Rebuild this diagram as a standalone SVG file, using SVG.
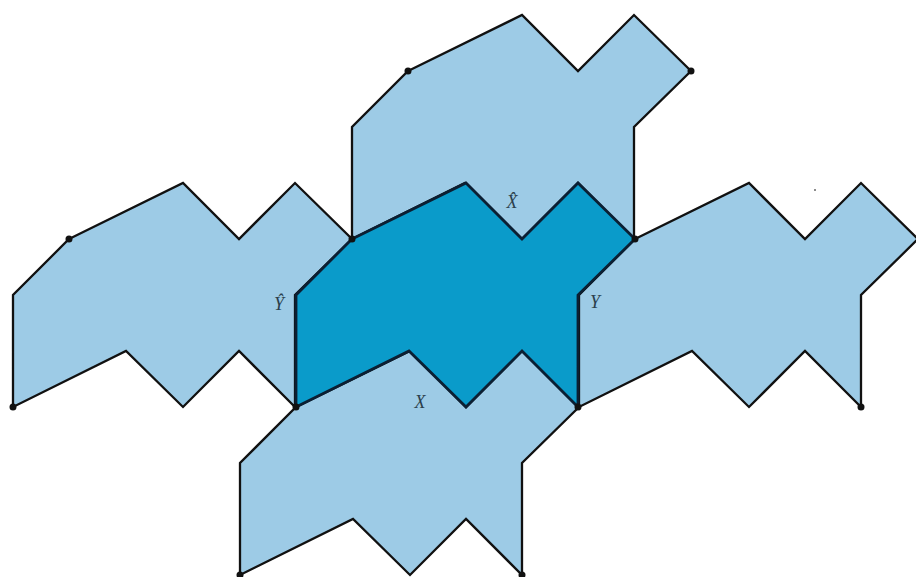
<svg xmlns="http://www.w3.org/2000/svg" width="916" height="577" viewBox="0 0 916 577">
<defs>
<style>
.tile{fill:#9dcbe6;stroke:#111;stroke-width:2.3;stroke-linejoin:miter}
.center{fill:#0a9bca;stroke:#0b1f33;stroke-width:2.8;stroke-linejoin:miter}
.dot{fill:#111}
.lbl{font-family:"Liberation Serif",serif;font-style:italic;font-size:18px;fill:#2b3f4c}
</style>
<polygon id="shape" points="352,239 466,183 522,239 578,183 635,239 578,295 578,407 522,351 466,407 409,351 296,407 296,295"/>
</defs>
<rect width="916" height="577" fill="#fff"/>
<g id="tile-top"><use href="#shape" class="tile" transform="translate(56,-168)"/></g>
<g id="tile-left"><use href="#shape" class="tile" transform="translate(-283,0)"/></g>
<g id="tile-right"><use href="#shape" class="tile" transform="translate(283,0)"/></g>
<g id="tile-bottom"><use href="#shape" class="tile" transform="translate(-56,168)"/></g>
<g id="tile-center"><use href="#shape" class="center"/></g>
<g id="dots">
<circle class="dot" cx="352" cy="239" r="3.5"/>
<circle class="dot" cx="635" cy="239" r="3.5"/>
<circle class="dot" cx="296" cy="407" r="3.5"/>
<circle class="dot" cx="578" cy="407" r="3.5"/>
<circle class="dot" cx="408" cy="71" r="3.5"/>
<circle class="dot" cx="691" cy="71" r="3.5"/>
<circle class="dot" cx="69" cy="239" r="3.5"/>
<circle class="dot" cx="13" cy="407" r="3.5"/>
<circle class="dot" cx="861" cy="407" r="3.5"/>
<circle class="dot" cx="240" cy="575" r="3.5"/>
<circle class="dot" cx="522" cy="575" r="3.5"/>
<circle cx="815" cy="190" r="1" fill="#666"/>
</g>
<g id="labels">
<text class="lbl" x="512" y="208" text-anchor="middle">X̂</text>
<text class="lbl" x="279" y="310" text-anchor="middle">Ŷ</text>
<text class="lbl" x="595" y="308" text-anchor="middle">Y</text>
<text class="lbl" x="420" y="408" text-anchor="middle">X</text>
</g>
</svg>
